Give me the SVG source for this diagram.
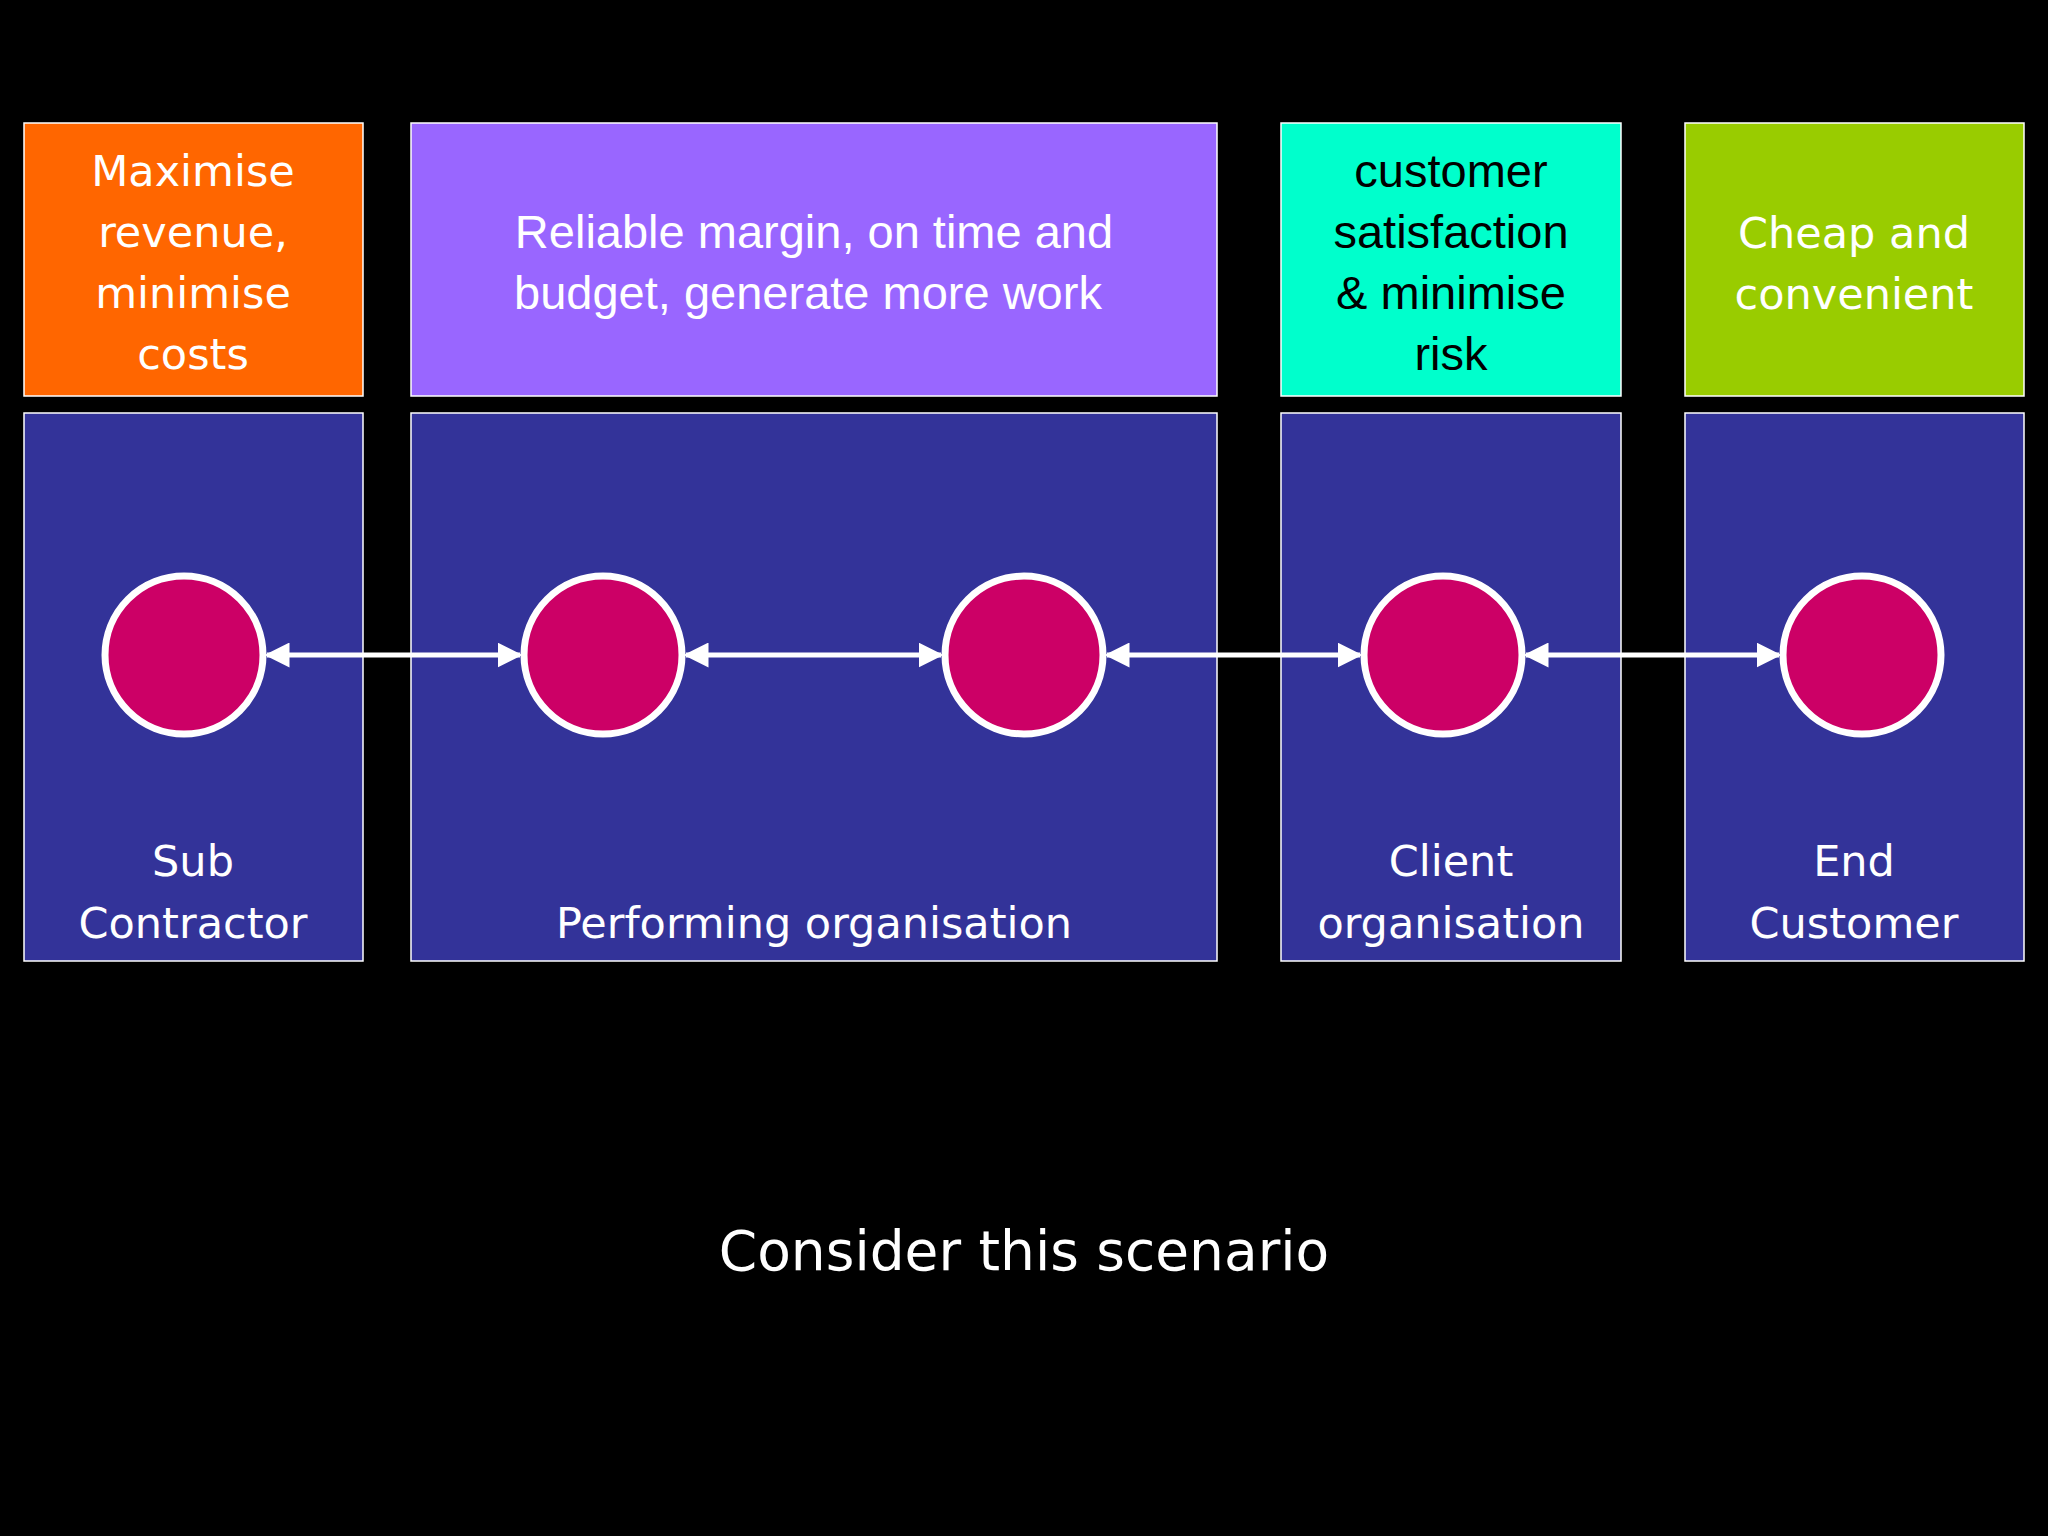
<svg xmlns="http://www.w3.org/2000/svg" width="2048" height="1536" viewBox="0 0 2048 1536">
<style>
.top{stroke:#ffffff;stroke-width:1.5}
.blue{fill:#333399;stroke:#ffffff;stroke-width:1.5}
.c{fill:#CC0066;stroke:#ffffff;stroke-width:7}
.t{font-family:"Liberation Sans",Arial,sans-serif;font-size:47px;text-anchor:middle}
.d{font-family:"DejaVu Sans",Verdana,sans-serif;font-size:43px;text-anchor:middle;fill:#ffffff}
.a{stroke:#ffffff;stroke-width:5;fill:none;marker-start:url(#h);marker-end:url(#h)}
</style>
<defs>
<marker id="h" viewBox="0 0 10 10" refX="9" refY="5" markerWidth="5" markerHeight="5" orient="auto-start-reverse" markerUnits="strokeWidth"><path d="M0,0 L10,5 L0,10 z" fill="#ffffff"/></marker>
</defs>
<rect width="2048" height="1536" fill="#000000"/>
<g id="goal-sub"><rect class="top" x="24" y="123" width="339" height="273" fill="#FF6600"/>
<text class="d" font-size="47" fill="#fff" x="193" y="186">Maximise</text><text class="d" x="193" y="247">revenue,</text><text class="d" x="193" y="308">minimise</text><text class="d" x="193" y="369">costs</text></g>
<g id="goal-perf"><rect class="top" x="411" y="123" width="806" height="273" fill="#9966FF"/>
<text class="t" fill="#fff" x="814" y="248">Reliable margin, on time and</text><text class="t" fill="#fff" x="808" y="309">budget, generate more work</text></g>
<g id="goal-client"><rect class="top" x="1281" y="123" width="340" height="273" fill="#00FFCC"/>
<text class="t" fill="#000" x="1451" y="187">customer</text><text class="t" fill="#000" x="1451" y="248">satisfaction</text><text class="t" fill="#000" x="1451" y="309">&amp; minimise</text><text class="t" fill="#000" x="1451" y="370">risk</text></g>
<g id="goal-end"><rect class="top" x="1685" y="123" width="339" height="273" fill="#99CC00"/>
<text class="d" x="1854" y="248">Cheap and</text><text class="d" x="1854" y="309">convenient</text></g>
<g id="sub"><rect class="blue" x="24" y="413" width="339" height="548"/><text class="d" x="193" y="876">Sub</text><text class="d" x="193" y="938">Contractor</text></g>
<g id="perf"><rect class="blue" x="411" y="413" width="806" height="548"/><text class="d" x="814" y="938">Performing organisation</text></g>
<g id="client"><rect class="blue" x="1281" y="413" width="340" height="548"/><text class="d" x="1451" y="876">Client</text><text class="d" x="1451" y="938">organisation</text></g>
<g id="end"><rect class="blue" x="1685" y="413" width="339" height="548"/><text class="d" x="1854" y="876">End</text><text class="d" x="1854" y="938">Customer</text></g>
<g id="connectors">
<line class="a" x1="267" y1="655" x2="520" y2="655"/>
<line class="a" x1="686" y1="655" x2="941" y2="655"/>
<line class="a" x1="1107" y1="655" x2="1360" y2="655"/>
<line class="a" x1="1526" y1="655" x2="1779" y2="655"/>
</g>
<g id="n1"><circle class="c" cx="184" cy="655" r="79"/></g>
<g id="n2"><circle class="c" cx="603" cy="655" r="79"/></g>
<g id="n3"><circle class="c" cx="1024" cy="655" r="79"/></g>
<g id="n4"><circle class="c" cx="1443" cy="655" r="79"/></g>
<g id="n5"><circle class="c" cx="1862" cy="655" r="79"/></g>
<text class="d" font-size="55" x="1024" y="1270" style="font-size:55px">Consider this scenario</text>
</svg>
